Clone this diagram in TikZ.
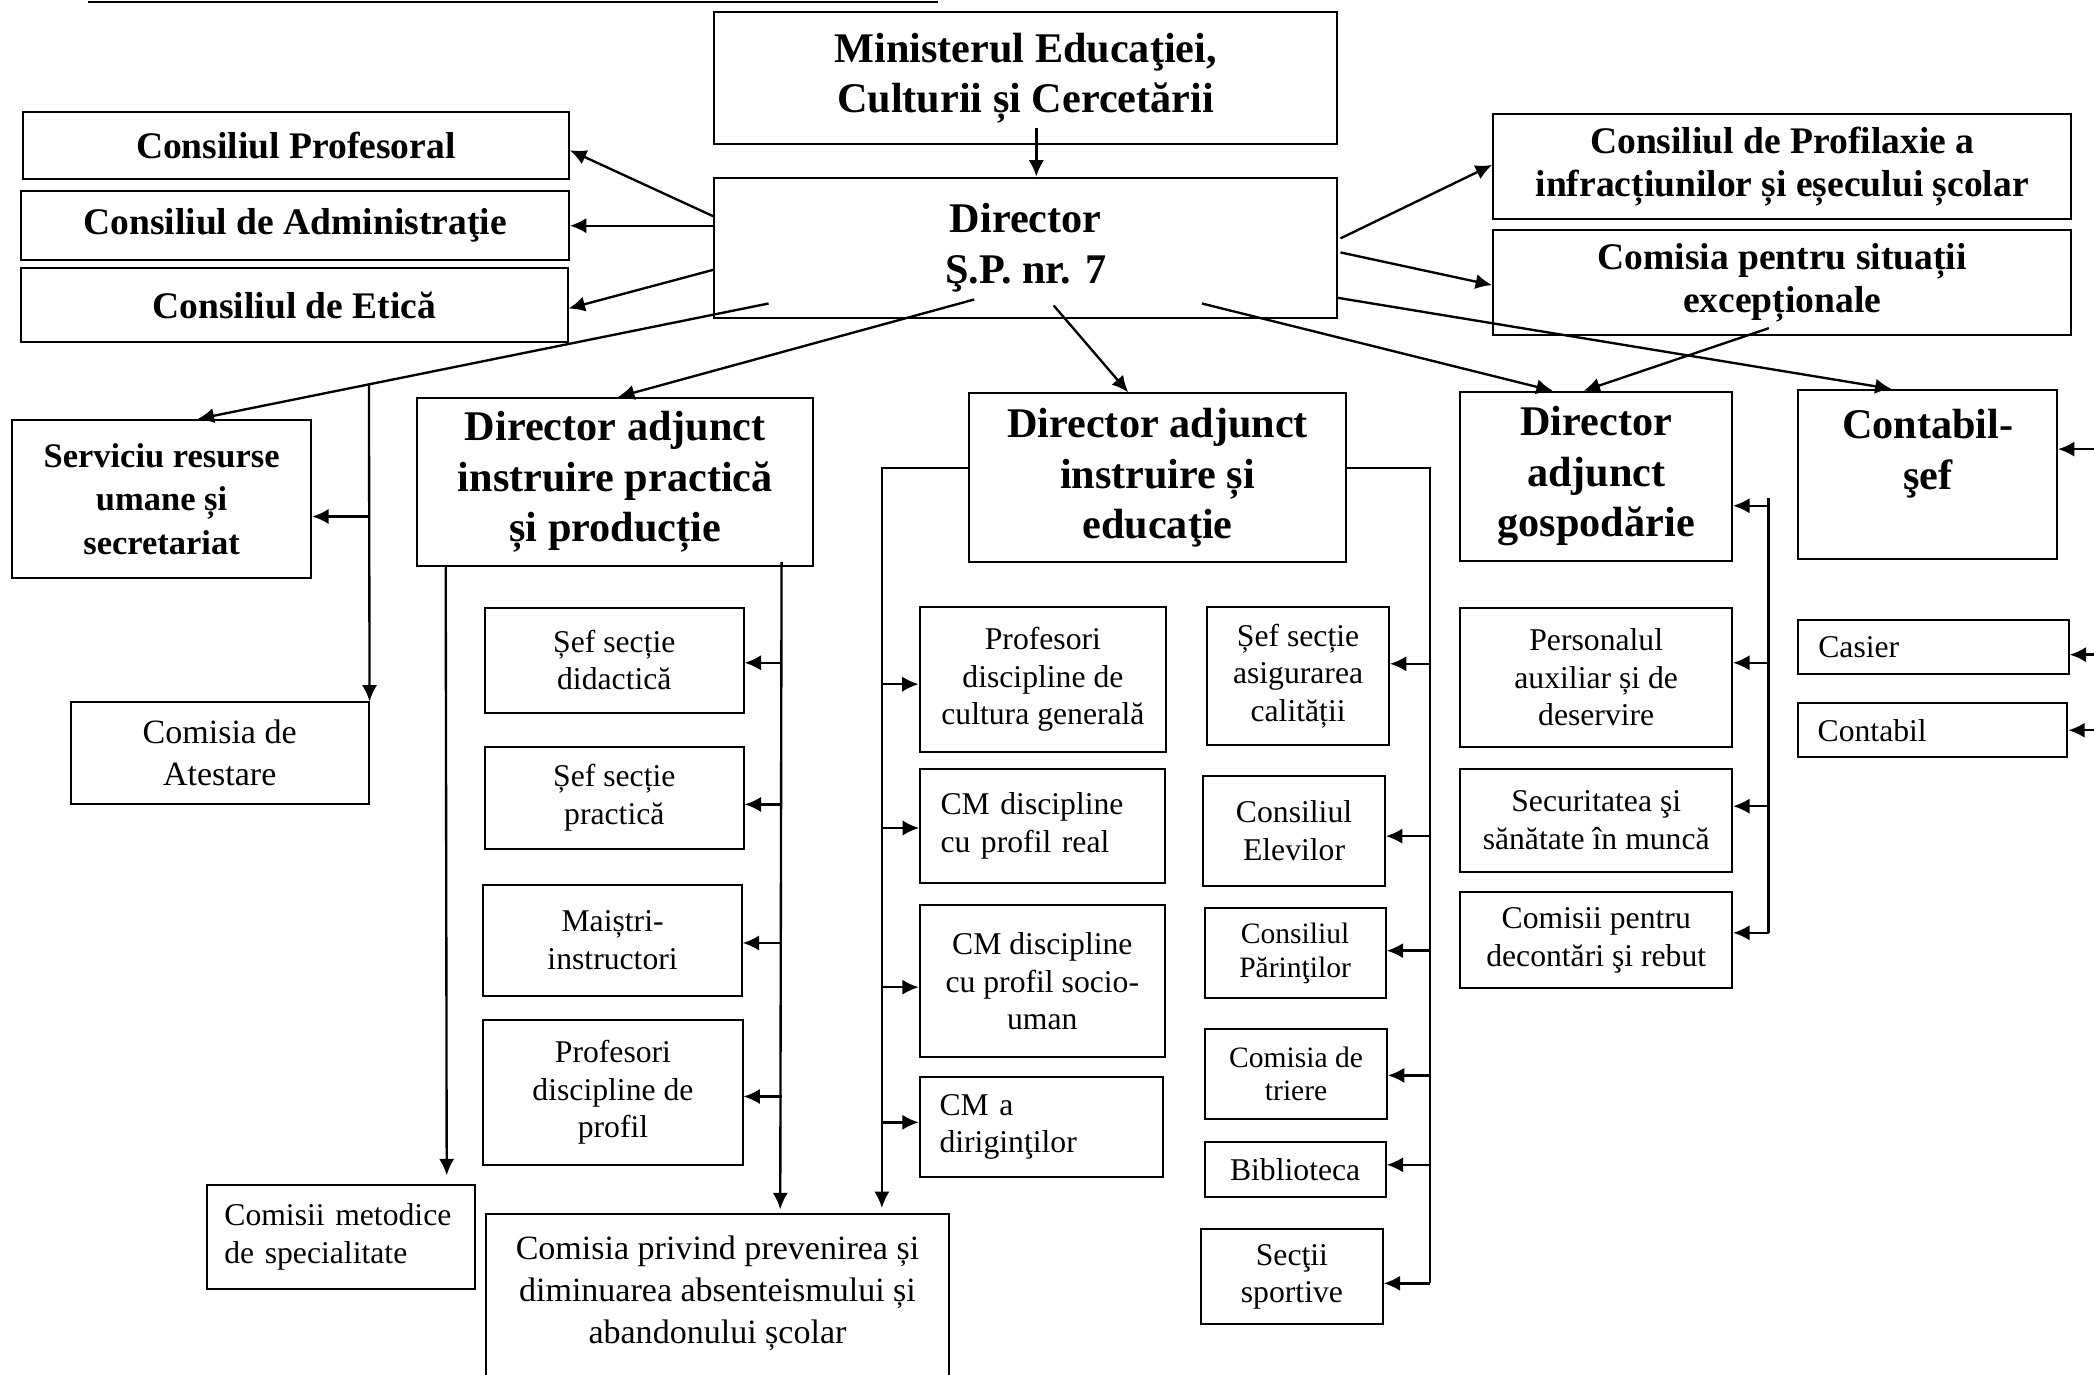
\documentclass[tikz,border=0pt]{standalone}
\usepackage{fontspec}
\setmainfont{Liberation Serif}
\usetikzlibrary{arrows.meta,calc}

\newcommand\fnbig{\bfseries\fontsize{18}{21.5}\selectfont}
\newcommand\fnmid{\bfseries\fontsize{16}{18.2}\selectfont}
\newcommand\fnserv{\bfseries\fontsize{14.7}{18.4}\selectfont}
\newcommand\fnbody{\fontsize{13.5}{16}\selectfont}
\newcommand\fnlarge{\fontsize{14.5}{17.8}\selectfont}
\newcommand\fnsmall{\fontsize{12.6}{14.3}\selectfont}

\tikzset{
  box/.style={draw, line width=0.85pt, inner sep=0pt, align=center, font=\fnbody},
  head/.style={box, font=\fnbig},
  sub/.style={box, font=\fnmid},
  lbox/.style={box, align=left, text width=#1},
  rect/.style n args={4}{at={({(#1+#3)/2},{(#2+#4)/2})},
    minimum width={(#3-#1)*0.02cm}, minimum height={(#4-#2)*0.02cm}},
  arr/.style={line width=1pt, -{Latex[length=7pt,width=6.5pt]}},
  ln/.style={line width=1pt},
}

\begin{document}
\begin{tikzpicture}[x=0.02cm,y=-0.02cm]
  \useasboundingbox (0,0) rectangle (1568,1029);
  \draw[ln] (66,1.5) -- (702,1.5);

  % top level
  \node[head, rect={535}{9}{1001}{108}] (min) {Ministerul Educaţiei,\\Culturii și Cercetării};
  \node[head, rect={535}{133}{1001}{238}] (dir) {Director\\Ş.P. nr. 7};
  \node[sub, rect={17}{84}{426}{134}] (cprof) {Consiliul Profesoral};
  \node[sub, rect={16}{143}{426}{195}] (cadm) {Consiliul de Administraţie};
  \node[sub, rect={16}{201}{425}{256}] (cetica) {Consiliul de Etică};
  \node[sub, rect={1118}{85}{1551}{164}] (cprofil) {Consiliul de Profilaxie a\\infracțiunilor și eșecului școlar};
  \node[sub, rect={1118}{172}{1551}{251}] (csit) {Comisia pentru situații\\excepționale};

  % second level
  \node[box, font=\fnserv, rect={9}{314.5}{233}{433}] (serv) {Serviciu resurse\\umane și\\secretariat};
  \node[box, font=\fnlarge, rect={53}{526}{276}{602}] (atest) {Comisia de\\Atestare};
  \node[head, rect={312.5}{298}{609}{424}] (dapr) {Director adjunct\\instruire practică\\și producție};
  \node[head, rect={725.6}{294.5}{1008}{421}] (daed) {Director adjunct\\instruire și\\educaţie};
  \node[head, rect={1093.5}{293.4}{1297}{420}] (dagos) {Director\\adjunct\\gospodărie};
  \node[head, rect={1346.6}{292}{1540.3}{418.6}] (cont) {Contabil-\\şef\\~};
  \node[lbox=3.45cm, rect={1346.6}{464.4}{1549}{505}] (casier) {Casier};
  \node[lbox=3.45cm, rect={1346.6}{526.6}{1548}{567}] (contabil) {Contabil};

  % instruire practica
  \node[box, rect={363.2}{455}{556.8}{533.6}] (sefdid) {Șef secție\\didactică};
  \node[box, rect={363.2}{559}{556.8}{635.7}] (sefpr) {Șef secție\\practică};
  \node[box, rect={362}{662.7}{555.4}{745.5}] (maistri) {Maiștri-\\instructori};
  \node[box, rect={362}{763.8}{556}{872.3}] (profpr) {Profesori\\discipline de\\profil};
  \node[lbox=3.5cm, rect={155.2}{887.3}{355.8}{965.4}] (cmet) {Comisii metodice\\de specialitate};
  \node[box, font=\fnlarge, rect={363.9}{909.3}{710.6}{1085}] (cabs) {Comisia privind prevenirea și\\diminuarea absenteismului și\\abandonului școlar\\~\\~};

  % instruire si educatie
  \node[box, rect={688.6}{454.3}{873.3}{563.3}] (profcg) {Profesori\\discipline de\\cultura generală};
  \node[lbox=3.05cm, rect={689}{576}{872}{661}] (cmreal) {CM discipline\\cu profil real};
  \node[box, rect={688.7}{677.7}{872.3}{791.7}] (cmsoc) {CM discipline\\cu profil socio-\\uman};
  \node[lbox=3.05cm, rect={688.7}{806.2}{870.8}{881.6}] (cmdir) {CM a\\diriginţilor};
  \node[box, rect={904}{454.3}{1040}{557.8}] (sefcal) {Șef secție\\asigurarea\\calității};
  \node[box, rect={901}{581}{1037}{663.2}] (celev) {Consiliul\\Elevilor};
  \node[box, font=\fnsmall, rect={902}{680.2}{1037.6}{747.5}] (cpar) {Consiliul\\Părinţilor};
  \node[box, font=\fnsmall, rect={902.6}{770.5}{1038.5}{838}] (ctri) {Comisia de\\triere};
  \node[box, rect={902}{855.4}{1037.6}{896}] (bibl) {Biblioteca};
  \node[box, rect={899.4}{920.3}{1035.4}{991.6}] (sport) {Secţii\\sportive};

  % gospodarie
  \node[box, rect={1093.5}{455}{1297}{559.6}] (pers) {Personalul\\auxiliar și de\\deservire};
  \node[box, rect={1093.5}{575.6}{1297}{652.7}] (secur) {Securitatea şi\\sănătate în muncă};
  \node[box, rect={1093.5}{668}{1297}{740}] (cdec) {Comisii pentru\\decontări şi rebut};

  % director links
  \draw[arr] ($(min.south)+(8,-13)$) -- ($(dir.north)+(8,0)$);
  \draw[arr] ($(dir.west)+(0,-23.5)$) -- ($(cprof.east)+(0,3.5)$);
  \draw[arr] ($(dir.west)+(0,-16.5)$) -- (cadm.east);
  \draw[arr] ($(dir.west)+(0,16.5)$) -- ($(cetica.east)+(0,2.5)$);
  \draw[arr] ($(dir.east)+(2,-7)$) -- ($(cprofil.west)+(0,-1)$);
  \draw[arr] ($(dir.east)+(2,3.5)$) -- ($(csit.west)+(0,2)$);
  \draw[arr] ($(dir.east)+(0,37.5)$) -- ($(cont.north)+(-27,0)$);

  \coordinate (s0) at ($(dir.south)+(-192.5,-11.5)$);
  \coordinate (s0e) at ($(serv.north)+(27,0)$);
  \draw[arr] (s0) -- (s0e);
  \draw[arr] ($(s0)!0.7!(s0e)$) -- (atest.north east);
  \draw[arr] ($(serv.east)+(43,13)$) -- ($(serv.east)+(0,13)$);
  \draw[arr] ($(dir.south)+(-38.5,-14.5)$) -- ($(dapr.north)+(2,0)$);
  \draw[arr] ($(dir.south)+(21,-10)$) -- ($(daed.north)+(-22,0)$);
  \draw[arr] ($(dir.south)+(132,-11.5)$) -- ($(dagos.north)+(-32.5,0)$);
  \draw[arr] ($(csit.south)+(-10,-6)$) -- ($(dagos.north)+(-9.5,0)$);

  % contabil-sef
  \draw[arr] ($(cont.east)+(40,-19)$) -- ($(cont.east)+(0,-19)$);
  \draw[arr] ($(casier.east)+(40,5.5)$) -- ($(casier.east)+(0,5.5)$);
  \draw[arr] ($(contabil.east)+(40,0)$) -- (contabil.east);

  % instruire practica
  \draw[arr] ($(dapr.south west)+(22,0)$) -- ($(cmet.north)+(79,-6.5)$);
  \coordinate (pr) at ($(dapr.south east)+(-24.5,-4)$);
  \draw[arr] (pr) -- ($(cabs.north)+(47,-3)$);
  \foreach \n/\d in {sefdid/2,sefpr/5,maistri/2,profpr/3}
    \draw[arr] ($(pr |- \n.east)+(0,\d)$) -- ($(\n.east)+(0,\d)$);

  % instruire si educatie
  \coordinate (el) at ($(cabs.north east)+(-51,-4)$);
  \draw[arr] ($(daed.west)+(0,-7.5)$) -| (el);
  \foreach \n/\d in {profcg/3.5,cmreal/1.5,cmsoc/4.5,cmdir/-3.5}
    \draw[arr] ($(el |- \n.west)+(0,\d)$) -- ($(\n.west)+(0,\d)$);
  \coordinate (er) at ($(daed.east)+(62,-7.5)$);
  \draw[ln] ($(daed.east)+(0,-7.5)$) -- (er) -- ($(er |- sport.east)+(0,5)$);
  \foreach \n/\d in {sefcal/-9,celev/4,cpar/-2,ctri/1,bibl/-3.5,sport/5}
    \draw[arr] ($(er |- \n.east)+(0,\d)$) -- ($(\n.east)+(0,\d)$);

  % gospodarie
  \coordinate (gs) at ($(dagos.east)+(26.5,16)$);
  \draw[ln] (gs) -- ($(gs |- cdec.east)+(0,-5.5)$);
  \foreach \n/\d in {dagos/22,pers/-11,secur/-10.5,cdec/-5.5}
    \draw[arr] ($(gs |- \n.east)+(0,\d)$) -- ($(\n.east)+(0,\d)$);
\end{tikzpicture}
\end{document}
